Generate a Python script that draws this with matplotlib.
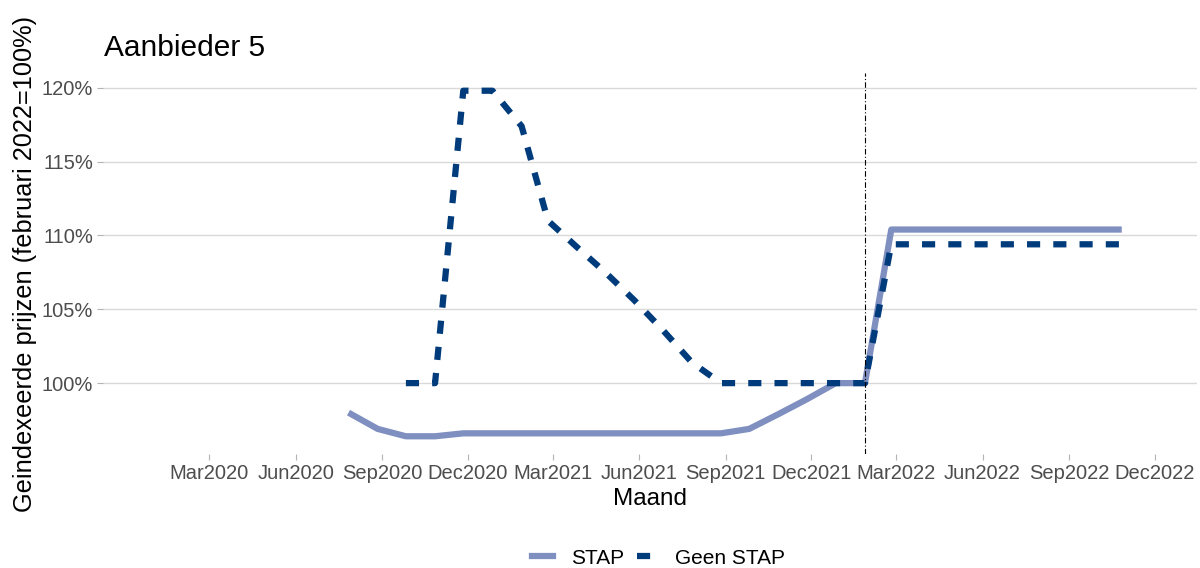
import datetime as dt

import matplotlib
matplotlib.use("Agg")
from matplotlib import pyplot as plt
from matplotlib.lines import Line2D

plt.rcParams["font.family"] = ["Liberation Sans", "DejaVu Sans"]

# monthly index values (February 2022 = 100%)
stap_start = (2020, 8)
stap_values = [98.0, 96.9, 96.4, 96.4, 96.6, 96.6, 96.6, 96.6, 96.6, 96.6,
               96.6, 96.6, 96.6, 96.6, 96.9, 97.9, 98.9, 100.0, 100.0,
               110.4, 110.4, 110.4, 110.4, 110.4, 110.4, 110.4, 110.4, 110.4]
geen_start = (2020, 10)
geen_values = [100.0, 100.0, 119.8, 119.8, 117.4, 111.0, 109.2, 107.5, 105.6,
               103.6, 101.4, 100.0, 100.0, 100.0, 100.0, 100.0, 100.0,
               109.4, 109.4, 109.4, 109.4, 109.4, 109.4, 109.4, 109.4, 109.4]
tick_labels = ["Mar2020", "Jun2020", "Sep2020", "Dec2020", "Mar2021", "Jun2021",
               "Sep2021", "Dec2021", "Mar2022", "Jun2022", "Sep2022", "Dec2022"]
reference_date = dt.date(2022, 2, 1)
y_ticks = [100, 105, 110, 115, 120]


def monthly(start, n):
    y, m = start
    out = []
    for i in range(n):
        mm = m - 1 + i
        out.append(dt.date(y + mm // 12, mm % 12 + 1, 1))
    return out


stap_dates = monthly(stap_start, len(stap_values))
geen_dates = monthly(geen_start, len(geen_values))
tick_dates = [dt.datetime.strptime(t, "%b%Y").date() + dt.timedelta(days=5)
              for t in tick_labels]

stap_col = "#7F8FC0"
geen_col = "#003B7B"
grey = "#4D4D4D"

fig = plt.figure(figsize=(12, 5.68), dpi=100)
ax = fig.add_axes([103 / 1200, 1 - 454 / 568, 1094 / 1200, 381 / 568])

ax.plot(stap_dates, stap_values, color=stap_col, lw=4.5, solid_capstyle="butt",
        solid_joinstyle="round", zorder=3)
ax.plot(geen_dates, geen_values, color=geen_col, lw=4.5,
        linestyle=(0, (2.1, 2.1)), dash_capstyle="butt", zorder=4)
ax.axvline(reference_date, color="black", lw=0.8, linestyle=(0, (5, 2, 1, 2)),
           zorder=5)

ax.set_xlim(dt.date(2019, 11, 14), dt.date(2023, 1, 20))
ax.set_ylim(95.2, 121.0)
ax.set_xticks(tick_dates)
ax.set_xticklabels(tick_labels)
ax.set_yticks(y_ticks)
ax.set_yticklabels([f"{v}%" for v in y_ticks])

ax.grid(axis="y", color="#D9D9D9", lw=1)
ax.set_axisbelow(True)
for s in ax.spines.values():
    s.set_visible(False)
ax.tick_params(axis="both", colors="#B3B3B3", labelcolor=grey, labelsize=14.5,
               length=4, width=0.8)
ax.tick_params(axis="x", pad=3)
ax.tick_params(axis="y", pad=3)

ax.set_xlabel("Maand", fontsize=17.5, labelpad=4)
fig.text(25 / 1200, 1 - 264 / 568, "Geindexeerde prijzen (februari 2022=100%)",
         rotation=90, fontsize=18.3, ha="center", va="center")
fig.text(104 / 1200, 1 - 47.5 / 568, "Aanbieder 5", fontsize=21.5, ha="left",
         va="center")

handles = [
    Line2D([], [], color=stap_col, lw=4.5),
    Line2D([], [], color=geen_col, lw=4.5, linestyle=(0, (2.1, 2.1))),
]
fig.legend(handles, ["STAP", "Geen STAP"], loc="center",
           bbox_to_anchor=(0.549, 1 - 558 / 568), ncol=2, frameon=False,
           fontsize=15, handlelength=1.0, handletextpad=0.85, columnspacing=0.6)

fig.savefig("out.png", dpi=100)
